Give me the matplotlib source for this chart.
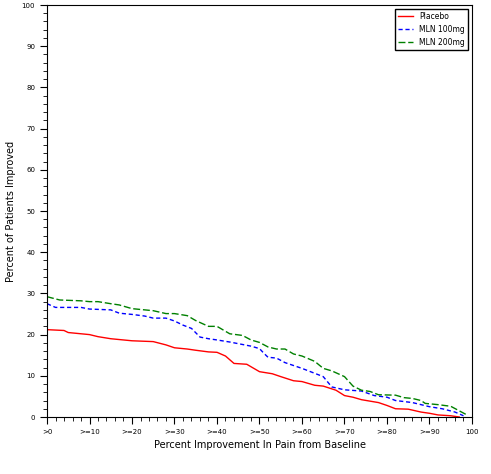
import matplotlib
matplotlib.use("Agg")
import matplotlib.pyplot as plt
from matplotlib.ticker import MultipleLocator

pl_x = [0,4,5,10,12,15,20,25,28,30,33,35,38,40,42,44,47,50,53,55,58,60,63,65,68,70,72,74,78,80,82,85,88,90,92,95,97]
pl_y = [21.2,21,20.5,20,19.5,19,18.5,18.3,17.5,16.8,16.5,16.2,15.8,15.7,14.8,13,12.8,11,10.5,9.8,8.8,8.6,7.7,7.5,6.5,5.2,4.8,4.2,3.5,2.8,2.0,1.9,1.2,0.9,0.5,0.3,0]
m1_x = [0,2,8,10,15,17,20,23,25,28,30,32,34,36,38,40,43,45,48,50,51,52,54,56,60,62,65,67,70,74,77,80,82,86,90,93,96,98]
m1_y = [27.5,26.6,26.6,26.2,26,25.2,24.9,24.5,24,24,23.3,22.3,21.5,19.4,19,18.7,18.2,17.8,17.2,16.6,15.5,14.5,14.3,13.2,11.8,11,9.8,7.3,6.6,6.3,5.2,4.8,4.0,3.5,2.5,2.0,1.2,0.3]
m2_x = [0,3,8,10,12,15,17,20,25,28,30,33,35,38,40,43,46,48,50,52,54,56,58,60,63,65,67,70,72,74,76,78,82,84,86,88,89,92,95,97,99]
m2_y = [29.2,28.4,28.2,28,28,27.5,27.2,26.3,25.8,25.1,25.1,24.6,23.4,22,22,20.2,19.8,18.7,18.1,17,16.5,16.5,15.3,14.8,13.5,11.8,11.2,9.8,7.5,6.5,6.2,5.4,5.3,4.7,4.5,4,3.3,3.0,2.6,1.5,0.4]
xtick_labels = ['>0','>=10','>=20','>=30','>=40','>=50','>=60','>=70','>=80','>=90','100']

fig = plt.figure(figsize=(4.91,4.74), dpi=100)
ax = fig.add_axes([47/491, 57/474, 425/491, 412/474])
ax.plot(pl_x, pl_y, color='red', lw=1, label='Placebo')
ax.plot(m1_x, m1_y, color='blue', lw=1, ls=(0,(3,2)), label='MLN 100mg')
ax.plot(m2_x, m2_y, color='green', lw=1, ls=(0,(5,2)), label='MLN 200mg')
ax.set_xlim(0,100); ax.set_ylim(0,100)
ax.set_xticks(range(0,101,10)); ax.set_xticklabels(xtick_labels, fontsize=5)
ax.set_yticks(range(0,101,10)); ax.tick_params(axis='y', labelsize=5)
ax.xaxis.set_minor_locator(MultipleLocator(2)); ax.yaxis.set_minor_locator(MultipleLocator(2))
ax.tick_params(which='both', direction='out')
ax.tick_params(which='major', length=5); ax.tick_params(which='minor', length=3)
ax.set_xlabel('Percent Improvement In Pain from Baseline', fontsize=7)
ax.set_ylabel('Percent of Patients Improved', fontsize=7)
ax.legend(loc='upper right', fontsize=5.5, fancybox=False, edgecolor='black', framealpha=1)
fig.savefig('out.png', dpi=100)
